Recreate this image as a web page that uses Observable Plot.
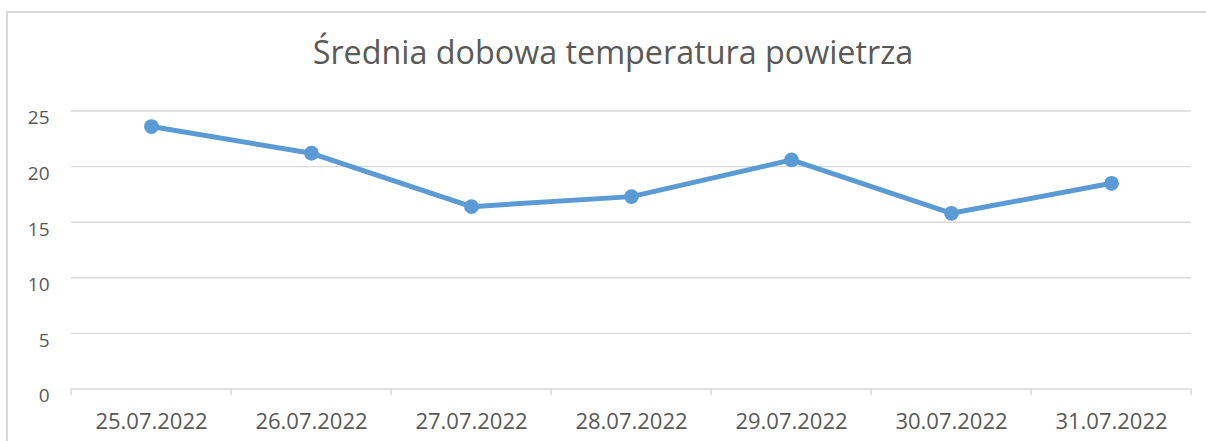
<!DOCTYPE html>
<html>
<head>
<meta charset="utf-8">
<script src="https://cdn.jsdelivr.net/npm/d3@7"></script>
<script src="https://cdn.jsdelivr.net/npm/@observablehq/plot@0.6"></script>
<style>
  html, body { margin: 0; padding: 0; background: #fff; }
  body { width: 1206px; height: 441px; position: relative; overflow: hidden; font-family: "Open Sans", sans-serif; }
  #frame { position: absolute; left: 6px; top: 11px; width: 1220px; height: 460px; border-left: 2px solid #d9d9d9; border-top: 2px solid #d9d9d9; box-sizing: border-box; }
  #title { position: absolute; left: 0; width: 1226px; top: 28px; text-align: center; font-size: 32.3px; color: #595959; font-family: "Open Sans", sans-serif; line-height: 46px; }
  #chart { position: absolute; left: 0; top: 0; }
</style>
</head>
<body>
<div id="frame"></div>
<div id="title">Średnia dobowa temperatura powietrza</div>
<div id="chart"></div>
<script>
const dates = ["25.07.2022", "26.07.2022", "27.07.2022", "28.07.2022", "29.07.2022", "30.07.2022", "31.07.2022"];
const temps = [23.6, 21.2, 16.4, 17.3, 20.6, 15.8, 18.5];
const yTicks = [0, 5, 10, 15, 20, 25];

const data = dates.map((d, i) => ({date: d, temp: temps[i]}));

const chart = Plot.plot({
  width: 1206,
  height: 441,
  marginLeft: 71,
  marginRight: 15,
  marginTop: 110.5,
  marginBottom: 52.5,
  style: {background: "transparent", color: "#595959", fontFamily: "Open Sans, sans-serif", fontSize: "18px"},
  x: {type: "band", domain: dates, padding: 0, tickSize: 0, tickPadding: 24, label: null},
  y: {domain: [0, 25], ticks: yTicks, tickSize: 0, tickPadding: 22, label: null},
  marks: [
    Plot.ruleY(yTicks, {y: d => d, stroke: "#d9d9d9", strokeWidth: 1.4}),
    Plot.line(data, {x: "date", y: "temp", stroke: "#5B9BD5", strokeWidth: 5, strokeLinejoin: "round", strokeLinecap: "round"}),
    Plot.dot(data, {x: "date", y: "temp", r: 7.4, fill: "#5B9BD5", stroke: "none"})
  ]
});
document.getElementById("chart").appendChild(chart);

const svg = d3.select(chart);
svg.selectAll('[aria-label^="x-axis"]').attr("font-size", 22);
svg.selectAll('[aria-label^="x-axis"] text').attr("font-size", 22).style("font-size", "22px").attr("fill", "#595959");
svg.selectAll('[aria-label^="y-axis"]').attr("font-size", 19);
svg.selectAll('[aria-label^="y-axis"] text').attr("font-size", 19).style("font-size", "19px").attr("dy", "0.38em").attr("fill", "#595959");

// category boundary tick marks below the baseline, from the x band scale
const xs = chart.scale("x");
const ys = chart.scale("y");
const y0 = ys.apply(0);
const bounds = dates.map(d => xs.apply(d)).concat([xs.apply(dates[dates.length - 1]) + xs.bandwidth]);
svg.append("g").attr("aria-label", "category ticks")
  .selectAll("line").data(bounds).join("line")
  .attr("x1", d => d).attr("x2", d => d)
  .attr("y1", y0).attr("y2", y0 + 6.5)
  .attr("stroke", "#d9d9d9").attr("stroke-width", 1.4);
</script>
</body>
</html>
